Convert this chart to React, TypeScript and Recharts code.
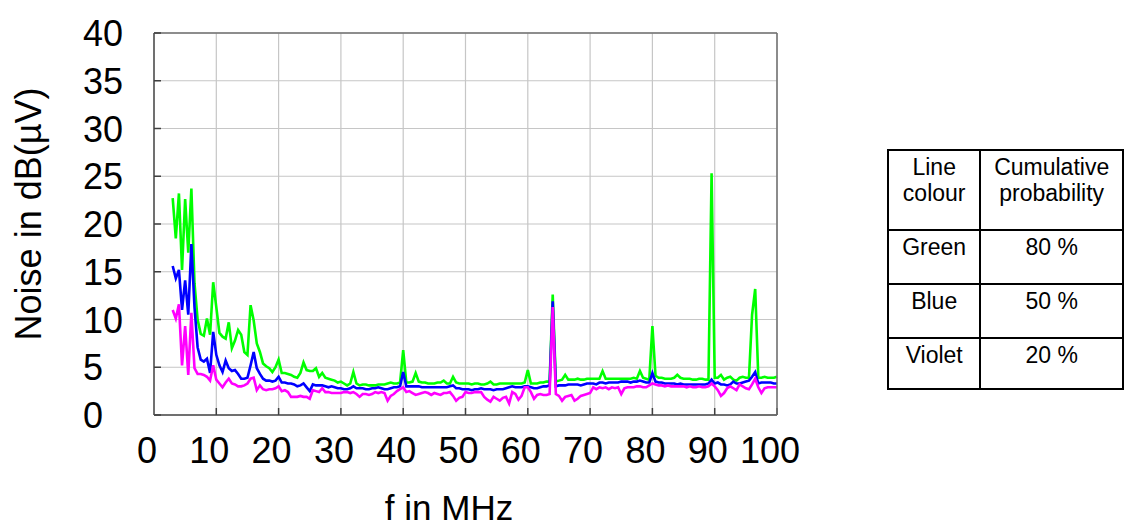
import { LineChart, Line, XAxis, YAxis, CartesianGrid } from 'recharts'

const FONT = '"Liberation Sans", Arial, Helvetica, sans-serif'

// frequency grid in MHz (0.5 MHz steps)
const FREQ = [
  3, 3.5, 4, 4.5, 5, 5.5, 6, 6.5, 7, 7.5,
  8, 8.5, 9, 9.5, 10, 10.5, 11, 11.5, 12, 12.5,
  13, 13.5, 14, 14.5, 15, 15.5, 16, 16.5, 17, 17.5,
  18, 18.5, 19, 19.5, 20, 20.5, 21, 21.5, 22, 22.5,
  23, 23.5, 24, 24.5, 25, 25.5, 26, 26.5, 27, 27.5,
  28, 28.5, 29, 29.5, 30, 30.5, 31, 31.5, 32, 32.5,
  33, 33.5, 34, 34.5, 35, 35.5, 36, 36.5, 37, 37.5,
  38, 38.5, 39, 39.5, 40, 40.5, 41, 41.5, 42, 42.5,
  43, 43.5, 44, 44.5, 45, 45.5, 46, 46.5, 47, 47.5,
  48, 48.5, 49, 49.5, 50, 50.5, 51, 51.5, 52, 52.5,
  53, 53.5, 54, 54.5, 55, 55.5, 56, 56.5, 57, 57.5,
  58, 58.5, 59, 59.5, 60, 60.5, 61, 61.5, 62, 62.5,
  63, 63.5, 64, 64.5, 65, 65.5, 66, 66.5, 67, 67.5,
  68, 68.5, 69, 69.5, 70, 70.5, 71, 71.5, 72, 72.5,
  73, 73.5, 74, 74.5, 75, 75.5, 76, 76.5, 77, 77.5,
  78, 78.5, 79, 79.5, 80, 80.5, 81, 81.5, 82, 82.5,
  83, 83.5, 84, 84.5, 85, 85.5, 86, 86.5, 87, 87.5,
  88, 88.5, 89, 89.5, 90, 90.5, 91, 91.5, 92, 92.5,
  93, 93.5, 94, 94.5, 95, 95.5, 96, 96.5, 97, 97.5,
  98, 98.5, 99, 99.5, 100,
]

// 80 % level
const GREEN = [
  22.7, 18.5, 23.2, 15.2, 22.6, 17.0, 23.7, 13.8, 10.0, 8.5,
  8.3, 10.1, 8.4, 13.9, 11.3, 8.6, 8.2, 8.0, 9.7, 7.0,
  7.8, 8.9, 8.4, 6.6, 6.3, 11.5, 9.9, 7.5, 6.6, 5.4,
  5.1, 4.9, 4.5, 5.0, 5.8, 4.4, 4.4, 4.3, 4.2, 4.0,
  3.9, 4.4, 5.5, 4.7, 4.6, 4.6, 4.9, 4.0, 4.4, 3.9,
  3.8, 3.7, 3.6, 3.4, 3.5, 3.3, 3.1, 3.3, 4.5, 3.3,
  3.1, 3.2, 3.2, 3.1, 3.1, 3.1, 3.2, 3.2, 3.2, 3.3,
  3.4, 3.3, 3.3, 3.4, 6.8, 3.4, 3.4, 3.5, 4.4, 3.5,
  3.4, 3.4, 3.3, 3.3, 3.3, 3.4, 3.4, 3.6, 3.3, 3.3,
  4.0, 3.4, 3.3, 3.3, 3.3, 3.3, 3.2, 3.3, 3.3, 3.2,
  3.2, 3.3, 3.5, 3.2, 3.2, 3.3, 3.3, 3.3, 3.3, 3.3,
  3.3, 3.3, 3.3, 3.4, 4.7, 3.3, 3.3, 3.3, 3.4, 3.4,
  3.5, 3.5, 12.6, 3.5, 3.6, 3.7, 4.2, 3.7, 3.7, 3.7,
  3.8, 3.7, 3.7, 3.8, 3.8, 3.8, 3.8, 3.8, 4.6, 3.8,
  3.8, 3.8, 3.8, 3.8, 3.8, 3.8, 3.8, 3.8, 3.9, 3.8,
  4.6, 3.9, 3.8, 3.7, 9.3, 4.1, 3.9, 3.9, 3.8, 3.8,
  3.8, 3.9, 4.2, 3.9, 3.8, 3.8, 3.8, 3.7, 3.7, 3.8,
  3.8, 3.7, 3.7, 25.3, 3.9, 3.9, 4.2, 3.7, 3.9, 4.0,
  3.7, 3.6, 3.9, 4.0, 3.9, 3.9, 10.5, 13.2, 3.9, 3.9,
  4.0, 3.9, 3.9, 3.9, 4.0,
]

// 50 % level
const BLUE = [
  15.6, 14.3, 15.2, 11.0, 14.1, 10.5, 17.9, 11.3, 7.1, 5.8,
  5.6, 5.9, 4.4, 8.7, 6.3, 5.2, 4.5, 5.7, 4.9, 4.6,
  4.7, 4.3, 3.8, 3.8, 3.9, 5.2, 6.6, 4.9, 4.3, 3.8,
  3.6, 3.6, 3.5, 3.6, 4.0, 3.4, 3.4, 3.3, 3.3, 3.2,
  3.0, 3.1, 3.3, 2.9, 2.5, 3.2, 3.1, 3.1, 3.1, 3.0,
  2.9, 3.0, 2.9, 2.8, 2.8, 2.7, 2.7, 2.8, 3.0, 2.8,
  2.8, 2.8, 2.7, 2.7, 2.8, 2.8, 2.9, 2.8, 2.7, 2.7,
  2.8, 2.9, 2.9, 3.0, 4.5, 3.0, 3.0, 3.0, 3.0, 3.0,
  2.9, 2.9, 2.9, 2.9, 2.9, 2.9, 2.9, 2.9, 2.9, 3.0,
  3.1, 2.8, 2.8, 2.7, 2.7, 2.7, 2.6, 2.7, 2.7, 2.8,
  2.7, 2.7, 2.7, 2.6, 2.7, 2.7, 2.7, 2.8, 2.9, 3.0,
  2.9, 2.9, 2.9, 3.0, 3.0, 2.9, 2.8, 2.8, 2.9, 3.0,
  3.0, 3.1, 11.9, 3.0, 3.1, 3.1, 3.1, 3.2, 3.2, 3.2,
  3.2, 3.1, 3.2, 3.3, 3.3, 3.3, 3.2, 3.4, 3.4, 3.3,
  3.4, 3.4, 3.4, 3.4, 3.5, 3.5, 3.5, 3.4, 3.5, 3.5,
  3.6, 3.5, 3.4, 3.4, 4.4, 3.5, 3.4, 3.4, 3.3, 3.3,
  3.3, 3.3, 3.2, 3.3, 3.2, 3.2, 3.2, 3.2, 3.2, 3.2,
  3.2, 3.2, 3.3, 3.7, 3.3, 3.4, 3.2, 3.2, 3.1, 3.2,
  3.5, 3.3, 3.3, 3.4, 3.5, 3.6, 4.0, 4.5, 3.3, 3.4,
  3.4, 3.4, 3.4, 3.3, 3.3,
]

// 20 % level
const VIOLET = [
  11.0, 10.1, 11.6, 5.2, 9.3, 4.2, 10.7, 4.9, 4.3, 4.3,
  4.2, 4.0, 3.6, 5.2, 3.7, 3.3, 2.9, 3.4, 3.8, 3.3,
  3.2, 3.0, 3.0, 3.1, 3.3, 3.8, 3.9, 2.6, 3.1, 2.7,
  2.6, 2.7, 2.7, 2.8, 3.0, 2.5, 2.6, 2.4, 1.9, 1.9,
  1.9, 2.0, 1.9, 1.9, 1.7, 2.6, 2.5, 2.4, 2.8, 2.4,
  2.4, 2.3, 2.3, 2.3, 2.3, 2.4, 2.4, 2.3, 2.4, 2.2,
  1.9, 2.2, 2.2, 2.1, 2.2, 2.4, 2.3, 2.4, 2.3, 1.5,
  2.0, 2.2, 2.5, 2.7, 2.9, 2.4, 2.5, 2.3, 2.1, 2.2,
  2.3, 2.4, 2.3, 2.1, 2.3, 2.2, 2.1, 2.3, 2.3, 2.4,
  2.0, 1.5, 1.8, 1.9, 2.4, 2.3, 2.3, 2.4, 2.4, 2.4,
  1.9, 1.6, 1.4, 1.9, 1.7, 1.5, 1.8, 1.9, 1.2, 2.4,
  2.2, 1.6, 2.0, 2.9, 2.9, 2.4, 1.7, 2.1, 2.2, 2.1,
  2.1, 2.2, 11.3, 2.2, 2.0, 1.5, 1.9, 2.0, 2.1, 1.5,
  1.7, 2.0, 2.1, 2.2, 2.3, 2.9, 2.7, 2.9, 2.8, 2.9,
  2.7, 2.9, 2.8, 2.9, 2.2, 2.8, 2.9, 2.9, 2.9, 3.0,
  3.0, 2.9, 2.9, 3.1, 3.3, 3.2, 3.1, 3.1, 3.0, 3.1,
  3.0, 3.0, 3.0, 3.0, 3.0, 2.9, 3.0, 2.9, 2.9, 3.0,
  2.9, 2.9, 3.0, 3.3, 3.0, 2.6, 2.0, 2.3, 2.8, 3.0,
  2.8, 2.6, 3.2, 3.0, 2.8, 2.7, 3.2, 3.8, 2.9, 2.3,
  2.8, 2.9, 2.9, 2.9, 2.9,
]

const X_TICKS = [0, 10, 20, 30, 40, 50, 60, 70, 80, 90, 100]
const Y_TICKS = [0, 5, 10, 15, 20, 25, 30, 35, 40]

const LEGEND_HEAD = ['Line\ncolour', 'Cumulative\nprobability']
const LEGEND_ROWS = [
  ['Green', '80 %'],
  ['Blue', '50 %'],
  ['Violet', '20 %'],
]

const data = FREQ.map((f, i) => ({ f, green: GREEN[i], blue: BLUE[i], violet: VIOLET[i] }))

const AXIS = '#707070'
const TICK = '#404040'

function YTick({ y, payload }: any) {
  return (
    <text x={83} y={y} dy={13} fontSize={36} fontFamily={FONT} fill="#000">
      {payload.value}
    </text>
  )
}

function XTick({ x, payload }: any) {
  return (
    <text x={x - 7} y={463} textAnchor="middle" fontSize={36} fontFamily={FONT} fill="#000">
      {payload.value}
    </text>
  )
}

const cell: React.CSSProperties = {
  border: '2px solid #000',
  textAlign: 'center',
  verticalAlign: 'top',
  padding: '3px 0 0 0',
  lineHeight: '26px',
  whiteSpace: 'pre-line',
}

export default function App() {
  return (
    <div
      style={{
        position: 'absolute',
        left: 0,
        top: 0,
        width: 1124,
        height: 528,
        overflow: 'hidden',
        background: '#fff',
        fontFamily: FONT,
      }}
    >
      <LineChart width={1124} height={528} data={data} margin={{ top: 32, right: 346, bottom: 0, left: 0 }}>
        <CartesianGrid stroke="#c6c6c6" strokeWidth={1.2} />
        <XAxis
          dataKey="f"
          type="number"
          domain={[0, 100]}
          ticks={X_TICKS}
          interval={0}
          height={113}
          tickSize={-7}
          tickMargin={0}
          axisLine={{ stroke: AXIS, strokeWidth: 2 }}
          tickLine={{ stroke: TICK, strokeWidth: 1.5 }}
          tick={<XTick />}
        />
        <XAxis
          xAxisId="top"
          orientation="top"
          type="number"
          domain={[0, 100]}
          ticks={X_TICKS}
          interval={0}
          height={1}
          tickSize={-7}
          tick={false}
          axisLine={{ stroke: AXIS, strokeWidth: 1.5 }}
          tickLine={{ stroke: TICK, strokeWidth: 1.5 }}
        />
        <YAxis
          type="number"
          domain={[0, 40]}
          ticks={Y_TICKS}
          interval={0}
          width={154}
          tickSize={-7}
          tickMargin={0}
          axisLine={{ stroke: AXIS, strokeWidth: 2 }}
          tickLine={{ stroke: TICK, strokeWidth: 1.5 }}
          tick={<YTick />}
        />
        <YAxis
          yAxisId="right"
          orientation="right"
          type="number"
          domain={[0, 40]}
          ticks={Y_TICKS}
          interval={0}
          width={1}
          tickSize={-7}
          tick={false}
          axisLine={{ stroke: AXIS, strokeWidth: 1.5 }}
          tickLine={{ stroke: TICK, strokeWidth: 1.5 }}
        />
        <Line dataKey="green" stroke="#00ff00" strokeWidth={2.6} dot={false} isAnimationActive={false} />
        <Line dataKey="blue" stroke="#0000ff" strokeWidth={2.6} dot={false} isAnimationActive={false} />
        <Line dataKey="violet" stroke="#ff00ff" strokeWidth={2.6} dot={false} isAnimationActive={false} />
      </LineChart>

      <svg width={1124} height={528} style={{ position: 'absolute', left: 0, top: 0, pointerEvents: 'none' }}>
        <text x={0} y={0} transform="translate(41,214) rotate(-90)" textAnchor="middle" fontSize={36} fontFamily={FONT}>
          Noise in dB(µV)
        </text>
        <text x={449} y={520} textAnchor="middle" fontSize={35} fontFamily={FONT}>
          f in MHz
        </text>
      </svg>

      <table
        style={{
          position: 'absolute',
          left: 887,
          top: 149,
          borderCollapse: 'collapse',
          fontSize: 23,
          fontFamily: FONT,
          tableLayout: 'fixed',
        }}
      >
        <colgroup>
          <col style={{ width: 100 }} />
          <col style={{ width: 150 }} />
        </colgroup>
        <tbody>
          <tr style={{ height: 80 }}>
            {LEGEND_HEAD.map((h) => (
              <td key={h} style={cell}>{h}</td>
            ))}
          </tr>
          {LEGEND_ROWS.map((r, i) => (
            <tr key={r[0]} style={{ height: i === 2 ? 51 : 54 }}>
              <td style={cell}>{r[0]}</td>
              <td style={cell}>{r[1]}</td>
            </tr>
          ))}
        </tbody>
      </table>
    </div>
  )
}
